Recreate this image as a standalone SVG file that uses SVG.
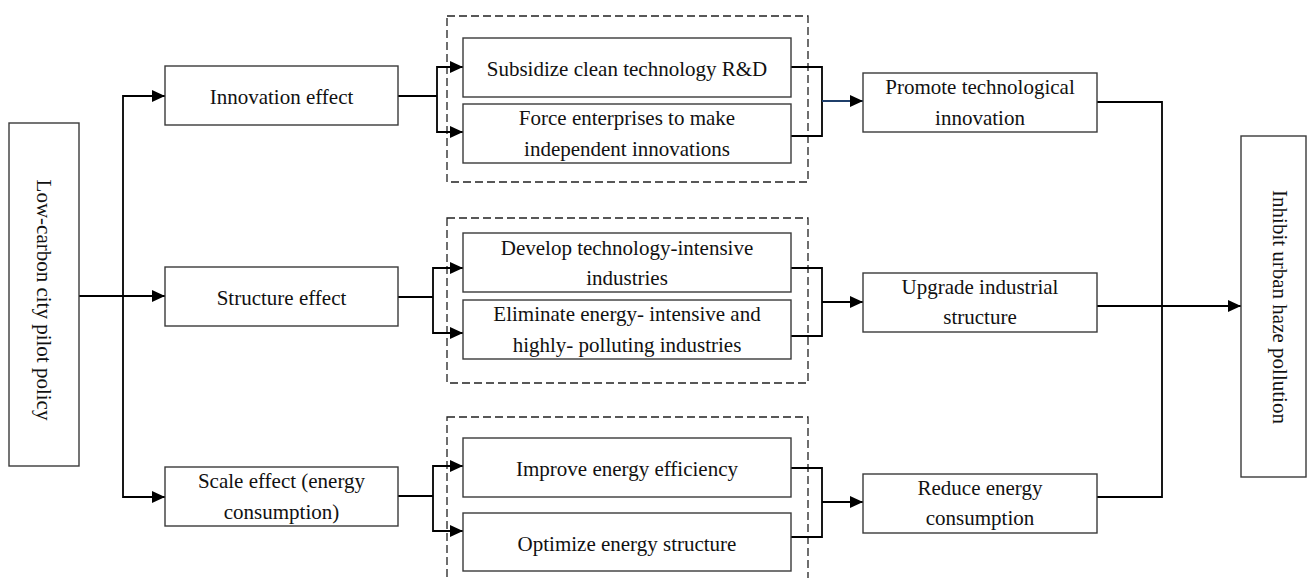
<svg xmlns="http://www.w3.org/2000/svg" width="1309" height="578" viewBox="0 0 1309 578">
<style>
.box{fill:#fff;stroke:#3a3a3a;stroke-width:1.4}
.dash{fill:none;stroke:#222;stroke-width:1.3;stroke-dasharray:8,4}
.t{font-family:"Liberation Serif","Times New Roman",serif;font-size:21px;fill:#111;text-anchor:middle}
.c{fill:none;stroke:#000;stroke-width:1.8}
.a{marker-end:url(#arr)}
</style>
<defs>
<marker id="arr" markerUnits="userSpaceOnUse" markerWidth="13" markerHeight="12" refX="13" refY="6" orient="auto">
<path d="M0,0 L13,6 L0,12 z" fill="#000"/>
</marker>
</defs>
<rect width="1309" height="578" fill="#fff"/>

<g id="groups">
<rect class="dash" x="447" y="16" width="361" height="166"/>
<rect class="dash" x="447" y="218" width="361" height="165"/>
<rect class="dash" x="447" y="417" width="361" height="175"/>
</g>

<g id="connectors">
<path class="c a" d="M79,296 H165"/>
<path class="c a" d="M123,296 V96 H165"/>
<path class="c a" d="M123,296 V497 H165"/>

<path class="c" d="M398,96 H437"/>
<path class="c a" d="M437,96 V67 H463"/>
<path class="c a" d="M437,96 V132 H463"/>
<path class="c" d="M398,297 H433"/>
<path class="c a" d="M433,297 V268 H463"/>
<path class="c a" d="M433,297 V333 H463"/>
<path class="c" d="M398,496 H433"/>
<path class="c a" d="M433,496 V466 H463"/>
<path class="c a" d="M433,496 V531 H463"/>

<path class="c" d="M791,67 H822 V136 H791"/>
<path class="c a" d="M822,101 H863" style="stroke:#1F3F6A"/>
<path class="c" d="M791,268 H822 V336 H791"/>
<path class="c a" d="M822,302 H863"/>
<path class="c" d="M791,468 H822 V537 H791"/>
<path class="c a" d="M822,502 H863"/>

<path class="c" d="M1097,102 H1162 V497 H1097"/>
<path class="c a" d="M1097,306 H1241"/>
</g>

<g id="n-policy">
<rect class="box" x="9" y="123" width="70" height="343"/>
<text class="t" transform="translate(44,300) rotate(90)" x="0" y="7">Low-carbon city pilot policy</text>
</g>

<g id="n-innovation">
<rect class="box" x="165" y="66" width="233" height="59"/>
<text class="t" x="281.5" y="104">Innovation effect</text>
</g>
<g id="n-structure">
<rect class="box" x="165" y="267" width="233" height="59"/>
<text class="t" x="281.5" y="305">Structure effect</text>
</g>
<g id="n-scale">
<rect class="box" x="165" y="467" width="233" height="59"/>
<text class="t" x="281.5" y="487.5">Scale effect (energy</text>
<text class="t" x="281.5" y="518.5">consumption)</text>
</g>

<g id="n-subsidize">
<rect class="box" x="463" y="38" width="328" height="59"/>
<text class="t" x="627" y="76">Subsidize clean technology R&amp;D</text>
</g>
<g id="n-force">
<rect class="box" x="463" y="104" width="328" height="59"/>
<text class="t" x="627" y="124.5">Force enterprises to make</text>
<text class="t" x="627" y="155.5">independent innovations</text>
</g>
<g id="n-develop">
<rect class="box" x="463" y="233" width="328" height="59"/>
<text class="t" x="627" y="254.5">Develop technology-intensive</text>
<text class="t" x="627" y="284.5">industries</text>
</g>
<g id="n-eliminate">
<rect class="box" x="463" y="300" width="328" height="59"/>
<text class="t" x="627" y="320.5">Eliminate energy- intensive and</text>
<text class="t" x="627" y="351.5">highly- polluting industries</text>
</g>
<g id="n-improve">
<rect class="box" x="463" y="438" width="328" height="59"/>
<text class="t" x="627" y="476">Improve energy efficiency</text>
</g>
<g id="n-optimize">
<rect class="box" x="463" y="513" width="328" height="58"/>
<text class="t" x="627" y="550.5">Optimize energy structure</text>
</g>

<g id="n-promote">
<rect class="box" x="863" y="73" width="234" height="59"/>
<text class="t" x="980" y="93.5">Promote technological</text>
<text class="t" x="980" y="124.5">innovation</text>
</g>
<g id="n-upgrade">
<rect class="box" x="863" y="273" width="234" height="59"/>
<text class="t" x="980" y="293.5">Upgrade industrial</text>
<text class="t" x="980" y="324">structure</text>
</g>
<g id="n-reduce">
<rect class="box" x="863" y="474" width="234" height="59"/>
<text class="t" x="980" y="494.5">Reduce energy</text>
<text class="t" x="980" y="525">consumption</text>
</g>

<g id="n-inhibit">
<rect class="box" x="1241" y="136" width="65" height="341"/>
<text class="t" transform="translate(1280,307) rotate(90)" x="0" y="7">Inhibit urban haze pollution</text>
</g>
</svg>
